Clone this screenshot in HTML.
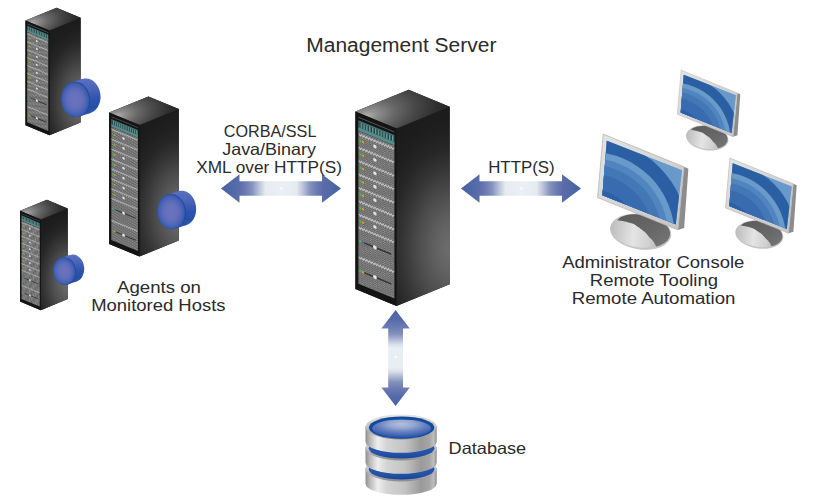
<!DOCTYPE html>
<html><head><meta charset="utf-8"><style>
html,body{margin:0;padding:0;background:#fff;}
svg{display:block;}
</style></head><body>
<svg width="818" height="502" viewBox="0 0 818 502">
<defs><linearGradient id="arrH" x1="0" y1="0" x2="1" y2="0">
<stop offset="0" stop-color="#4560a3"/><stop offset="0.15" stop-color="#5b6da9"/>
<stop offset="0.2" stop-color="#6a7ab1"/><stop offset="0.26" stop-color="#8593be"/>
<stop offset="0.32" stop-color="#bcc5da"/><stop offset="0.37" stop-color="#e5ebf0"/>
<stop offset="0.5" stop-color="#eaf0f4"/>
<stop offset="0.63" stop-color="#e5ebf0"/><stop offset="0.68" stop-color="#bcc5da"/>
<stop offset="0.74" stop-color="#8593be"/><stop offset="0.8" stop-color="#6a7ab1"/>
<stop offset="0.85" stop-color="#5b6da9"/><stop offset="1" stop-color="#4560a3"/>
</linearGradient><linearGradient id="arrV" x1="0" y1="0" x2="0" y2="1">
<stop offset="0" stop-color="#4862a5"/><stop offset="0.1" stop-color="#566aaa"/><stop offset="0.19" stop-color="#6e7db4"/>
<stop offset="0.25" stop-color="#8290bd"/><stop offset="0.3" stop-color="#aab4d2"/>
<stop offset="0.36" stop-color="#d9e0ea"/><stop offset="0.4" stop-color="#e8eff3"/>
<stop offset="0.6" stop-color="#e8eff3"/>
<stop offset="0.64" stop-color="#d9e0ea"/><stop offset="0.7" stop-color="#aab4d2"/>
<stop offset="0.75" stop-color="#8290bd"/><stop offset="0.81" stop-color="#6e7db4"/>
<stop offset="0.9" stop-color="#566aaa"/><stop offset="1" stop-color="#4862a5"/>
</linearGradient><radialGradient id="sideG" gradientUnits="userSpaceOnUse" cx="56" cy="120" r="145" gradientTransform="translate(56,120) scale(0.62,1) translate(-56,-120)">
<stop offset="0" stop-color="#707070"/><stop offset="0.2" stop-color="#606060"/>
<stop offset="0.38" stop-color="#4c4c4c"/><stop offset="0.55" stop-color="#363636"/>
<stop offset="0.7" stop-color="#262626"/><stop offset="0.85" stop-color="#1e1e1e"/><stop offset="1" stop-color="#1b1b1b"/></radialGradient><radialGradient id="topG" gradientUnits="userSpaceOnUse" cx="-31" cy="-12" r="92" gradientTransform="translate(-31,-12) rotate(-14) scale(1,0.48) translate(31,12)">
<stop offset="0" stop-color="#b4b4b4"/><stop offset="0.12" stop-color="#909090"/>
<stop offset="0.32" stop-color="#686868"/><stop offset="0.55" stop-color="#484848"/>
<stop offset="0.8" stop-color="#2e2e2e"/><stop offset="1" stop-color="#242424"/></radialGradient><pattern id="mesh" patternUnits="userSpaceOnUse" width="2.6" height="2.2">
<rect width="2.6" height="2.2" fill="#5e5e5e"/><circle cx="0.65" cy="0.55" r="0.62" fill="#9a9a9a"/><circle cx="1.95" cy="1.65" r="0.62" fill="#9a9a9a"/></pattern><radialGradient id="diskFace" cx="0.5" cy="0.5" r="0.5">
<stop offset="0" stop-color="#6a72bb"/><stop offset="0.45" stop-color="#6670ba"/>
<stop offset="0.62" stop-color="#5a6bb8"/><stop offset="0.8" stop-color="#4a64b5"/><stop offset="0.93" stop-color="#3a5cb1"/><stop offset="1" stop-color="#3055aa"/></radialGradient><linearGradient id="diskBody" x1="0" y1="0" x2="0" y2="1">
<stop offset="0" stop-color="#5a6ec0"/><stop offset="0.3" stop-color="#4a66b9"/>
<stop offset="0.6" stop-color="#2f54aa"/><stop offset="0.85" stop-color="#2350a6"/><stop offset="1" stop-color="#3a5cb0"/></linearGradient><g id="rack"><polygon points="-41.1,-16.89 12.100000000000001,-38.60 53.2,-21.71 53.2,155.79 0,177.5 -41.1,160.61" fill="#1a1a1a"/><polygon points="0,0 53.2,-21.71 53.2,155.79 0,177.5" fill="url(#sideG)"/><polygon points="-41.1,-16.89 12.100000000000001,-38.60 53.2,-21.71 0,0" fill="url(#topG)"/><polygon points="-41.1,-16.89 0,0 0,177.5 -41.1,160.61" fill="#141414"/><g transform="matrix(1,0.411,0,1,-41.1,-16.89)"><rect x="3" y="4" width="36" height="1" fill="#555"/><rect x="3" y="7.5" width="36" height="10.2" fill="#3f7070"/><rect x="3" y="14.6" width="36" height="3.1" fill="#558c8c"/><rect x="4.20" y="9" width="1.1" height="5.2" fill="#263f3f"/><rect x="5.40" y="9" width="0.6" height="5.2" fill="#8db8b8"/><rect x="7.05" y="9" width="1.1" height="5.2" fill="#263f3f"/><rect x="8.25" y="9" width="0.6" height="5.2" fill="#8db8b8"/><rect x="9.90" y="9" width="1.1" height="5.2" fill="#263f3f"/><rect x="11.10" y="9" width="0.6" height="5.2" fill="#8db8b8"/><rect x="12.75" y="9" width="1.1" height="5.2" fill="#263f3f"/><rect x="13.95" y="9" width="0.6" height="5.2" fill="#8db8b8"/><rect x="15.60" y="9" width="1.1" height="5.2" fill="#263f3f"/><rect x="16.80" y="9" width="0.6" height="5.2" fill="#8db8b8"/><rect x="18.45" y="9" width="1.1" height="5.2" fill="#263f3f"/><rect x="19.65" y="9" width="0.6" height="5.2" fill="#8db8b8"/><rect x="21.30" y="9" width="1.1" height="5.2" fill="#263f3f"/><rect x="22.50" y="9" width="0.6" height="5.2" fill="#8db8b8"/><rect x="24.15" y="9" width="1.1" height="5.2" fill="#263f3f"/><rect x="25.35" y="9" width="0.6" height="5.2" fill="#8db8b8"/><rect x="27.00" y="9" width="1.1" height="5.2" fill="#263f3f"/><rect x="28.20" y="9" width="0.6" height="5.2" fill="#8db8b8"/><rect x="29.85" y="9" width="1.1" height="5.2" fill="#263f3f"/><rect x="31.05" y="9" width="0.6" height="5.2" fill="#8db8b8"/><rect x="32.70" y="9" width="1.1" height="5.2" fill="#263f3f"/><rect x="33.90" y="9" width="0.6" height="5.2" fill="#8db8b8"/><rect x="35.55" y="9" width="1.1" height="5.2" fill="#263f3f"/><rect x="36.75" y="9" width="0.6" height="5.2" fill="#8db8b8"/><rect x="3" y="18" width="36" height="153" fill="url(#mesh)"/><polyline points="3.50,20.60 4.85,22.40 6.20,20.60 7.55,22.40 8.90,20.60 10.25,22.40 11.60,20.60 12.95,22.40 14.30,20.60 15.65,22.40 17.00,20.60 18.35,22.40 19.70,20.60 21.05,22.40 22.40,20.60 23.75,22.40 25.10,20.60 26.45,22.40 27.80,20.60 29.15,22.40 30.50,20.60 31.85,22.40 33.20,20.60 34.55,22.40 35.90,20.60 37.25,22.40 38.60,20.60" fill="none" stroke="#bebebe" stroke-width="1.1"/><circle cx="5" cy="27.50" r="1.1" fill="#3fc23f"/><circle cx="7.6" cy="27.60" r="1.1" fill="#e0a020"/><circle cx="19.5" cy="27.00" r="1.7" fill="#e2e2e2"/><polyline points="3.50,34.00 4.85,35.80 6.20,34.00 7.55,35.80 8.90,34.00 10.25,35.80 11.60,34.00 12.95,35.80 14.30,34.00 15.65,35.80 17.00,34.00 18.35,35.80 19.70,34.00 21.05,35.80 22.40,34.00 23.75,35.80 25.10,34.00 26.45,35.80 27.80,34.00 29.15,35.80 30.50,34.00 31.85,35.80 33.20,34.00 34.55,35.80 35.90,34.00 37.25,35.80 38.60,34.00" fill="none" stroke="#bebebe" stroke-width="1.1"/><circle cx="5" cy="40.90" r="1.1" fill="#3fc23f"/><circle cx="7.6" cy="41.00" r="1.1" fill="#e0a020"/><circle cx="19.5" cy="40.40" r="1.7" fill="#e2e2e2"/><polyline points="3.50,47.40 4.85,49.20 6.20,47.40 7.55,49.20 8.90,47.40 10.25,49.20 11.60,47.40 12.95,49.20 14.30,47.40 15.65,49.20 17.00,47.40 18.35,49.20 19.70,47.40 21.05,49.20 22.40,47.40 23.75,49.20 25.10,47.40 26.45,49.20 27.80,47.40 29.15,49.20 30.50,47.40 31.85,49.20 33.20,47.40 34.55,49.20 35.90,47.40 37.25,49.20 38.60,47.40" fill="none" stroke="#bebebe" stroke-width="1.1"/><circle cx="5" cy="54.30" r="1.1" fill="#3fc23f"/><circle cx="7.6" cy="54.40" r="1.1" fill="#e0a020"/><circle cx="19.5" cy="53.80" r="1.7" fill="#e2e2e2"/><polyline points="3.50,60.80 4.85,62.60 6.20,60.80 7.55,62.60 8.90,60.80 10.25,62.60 11.60,60.80 12.95,62.60 14.30,60.80 15.65,62.60 17.00,60.80 18.35,62.60 19.70,60.80 21.05,62.60 22.40,60.80 23.75,62.60 25.10,60.80 26.45,62.60 27.80,60.80 29.15,62.60 30.50,60.80 31.85,62.60 33.20,60.80 34.55,62.60 35.90,60.80 37.25,62.60 38.60,60.80" fill="none" stroke="#bebebe" stroke-width="1.1"/><circle cx="5" cy="67.70" r="1.1" fill="#3fc23f"/><circle cx="7.6" cy="67.80" r="1.1" fill="#e0a020"/><circle cx="19.5" cy="67.20" r="1.7" fill="#e2e2e2"/><polyline points="3.50,74.20 4.85,76.00 6.20,74.20 7.55,76.00 8.90,74.20 10.25,76.00 11.60,74.20 12.95,76.00 14.30,74.20 15.65,76.00 17.00,74.20 18.35,76.00 19.70,74.20 21.05,76.00 22.40,74.20 23.75,76.00 25.10,74.20 26.45,76.00 27.80,74.20 29.15,76.00 30.50,74.20 31.85,76.00 33.20,74.20 34.55,76.00 35.90,74.20 37.25,76.00 38.60,74.20" fill="none" stroke="#bebebe" stroke-width="1.1"/><circle cx="5" cy="81.10" r="1.1" fill="#3fc23f"/><circle cx="7.6" cy="81.20" r="1.1" fill="#e0a020"/><circle cx="19.5" cy="80.60" r="1.7" fill="#e2e2e2"/><polyline points="3.50,87.60 4.85,89.40 6.20,87.60 7.55,89.40 8.90,87.60 10.25,89.40 11.60,87.60 12.95,89.40 14.30,87.60 15.65,89.40 17.00,87.60 18.35,89.40 19.70,87.60 21.05,89.40 22.40,87.60 23.75,89.40 25.10,87.60 26.45,89.40 27.80,87.60 29.15,89.40 30.50,87.60 31.85,89.40 33.20,87.60 34.55,89.40 35.90,87.60 37.25,89.40 38.60,87.60" fill="none" stroke="#bebebe" stroke-width="1.1"/><circle cx="5" cy="94.50" r="1.1" fill="#3fc23f"/><circle cx="7.6" cy="94.60" r="1.1" fill="#e0a020"/><circle cx="19.5" cy="94.00" r="1.7" fill="#e2e2e2"/><polyline points="3.50,101.00 4.85,102.80 6.20,101.00 7.55,102.80 8.90,101.00 10.25,102.80 11.60,101.00 12.95,102.80 14.30,101.00 15.65,102.80 17.00,101.00 18.35,102.80 19.70,101.00 21.05,102.80 22.40,101.00 23.75,102.80 25.10,101.00 26.45,102.80 27.80,101.00 29.15,102.80 30.50,101.00 31.85,102.80 33.20,101.00 34.55,102.80 35.90,101.00 37.25,102.80 38.60,101.00" fill="none" stroke="#bebebe" stroke-width="1.1"/><circle cx="5" cy="107.90" r="1.1" fill="#3fc23f"/><circle cx="7.6" cy="108.00" r="1.1" fill="#e0a020"/><circle cx="19.5" cy="107.40" r="1.7" fill="#e2e2e2"/><polyline points="3.50,113.80 4.85,115.60 6.20,113.80 7.55,115.60 8.90,113.80 10.25,115.60 11.60,113.80 12.95,115.60 14.30,113.80 15.65,115.60 17.00,113.80 18.35,115.60 19.70,113.80 21.05,115.60 22.40,113.80 23.75,115.60 25.10,113.80 26.45,115.60 27.80,113.80 29.15,115.60 30.50,113.80 31.85,115.60 33.20,113.80 34.55,115.60 35.90,113.80 37.25,115.60 38.60,113.80" fill="none" stroke="#bebebe" stroke-width="1.1"/><circle cx="5" cy="127.80" r="1.1" fill="#3fc23f"/><circle cx="7.6" cy="127.90" r="1.1" fill="#4060c0"/><rect x="9" y="127.10" width="27" height="1.5" fill="#333"/><circle cx="19.5" cy="127.80" r="1.9" fill="#e6e6e6"/><polyline points="3.50,143.60 4.85,145.40 6.20,143.60 7.55,145.40 8.90,143.60 10.25,145.40 11.60,143.60 12.95,145.40 14.30,143.60 15.65,145.40 17.00,143.60 18.35,145.40 19.70,143.60 21.05,145.40 22.40,143.60 23.75,145.40 25.10,143.60 26.45,145.40 27.80,143.60 29.15,145.40 30.50,143.60 31.85,145.40 33.20,143.60 34.55,145.40 35.90,143.60 37.25,145.40 38.60,143.60" fill="none" stroke="#bebebe" stroke-width="1.1"/><circle cx="5" cy="157.60" r="1.1" fill="#3fc23f"/><circle cx="7.6" cy="157.70" r="1.1" fill="#e0a020"/><rect x="9" y="156.90" width="27" height="1.5" fill="#333"/><circle cx="19.5" cy="157.60" r="1.9" fill="#e6e6e6"/></g></g><linearGradient id="silverBand" gradientUnits="userSpaceOnUse" x1="365.5" y1="0" x2="436.7" y2="0">
<stop offset="0" stop-color="#8e8e8e"/><stop offset="0.06" stop-color="#b8b8b8"/>
<stop offset="0.17" stop-color="#eeeeee"/><stop offset="0.3" stop-color="#d4d4d4"/>
<stop offset="0.55" stop-color="#c4c4c4"/><stop offset="0.78" stop-color="#9a9a9a"/>
<stop offset="0.9" stop-color="#a6a6a6"/><stop offset="0.96" stop-color="#c0c0c0"/>
<stop offset="1" stop-color="#8a8a8a"/></linearGradient><linearGradient id="silverRim" x1="0" y1="0" x2="0" y2="1">
<stop offset="0" stop-color="#e8e8e8"/><stop offset="0.5" stop-color="#c4c4c4"/><stop offset="0.85" stop-color="#a0a0a0"/><stop offset="1" stop-color="#8a8a8a"/></linearGradient><radialGradient id="dbTop" cx="0.5" cy="0.3" r="0.7" fx="0.5" fy="0.25">
<stop offset="0" stop-color="#b4c0da"/><stop offset="0.3" stop-color="#96a8d2"/>
<stop offset="0.55" stop-color="#6a84c2"/><stop offset="0.8" stop-color="#4466b4"/><stop offset="1" stop-color="#1f54a6"/></radialGradient><linearGradient id="crescG" x1="0" y1="0" x2="0" y2="1">
<stop offset="0" stop-color="#2d5cb0"/><stop offset="0.75" stop-color="#2352a8"/><stop offset="1" stop-color="#1a4594"/></linearGradient><linearGradient id="bezelG" x1="0" y1="0" x2="1" y2="1">
<stop offset="0" stop-color="#e4e4e4"/><stop offset="1" stop-color="#c4c4c4"/></linearGradient><linearGradient id="baseG" x1="0" y1="0" x2="1" y2="0">
<stop offset="0" stop-color="#bdbdbd"/><stop offset="0.4" stop-color="#e4e4e4"/><stop offset="0.7" stop-color="#cfcfcf"/><stop offset="1" stop-color="#9a9a9a"/></linearGradient><clipPath id="scrClip"><polygon points="2.8,5.2 61.8,28.3 56.9,70.9 -0.6,47.9"/></clipPath><clipPath id="baseClip"><ellipse cx="29.6" cy="76.0" rx="23.0" ry="13.0" transform="rotate(8 29.4 76.5)"/></clipPath><linearGradient id="neckG" x1="0" y1="0" x2="1" y2="1">
<stop offset="0" stop-color="#585858"/><stop offset="0.5" stop-color="#686868"/><stop offset="1" stop-color="#858585"/></linearGradient><g id="monitor"><ellipse cx="29.4" cy="76.5" rx="24.2" ry="14" transform="rotate(8 29.4 76.5)" fill="#c4c4c4"/><ellipse cx="28.6" cy="76.2" rx="22.6" ry="12.6" transform="rotate(8 28.6 76.2)" fill="url(#baseG)"/><path clip-path="url(#baseClip)" d="M11,67.5 C15,64 18,60 22,55 L70,70 L70,95 L43.2,92 C41,86 39,83 36.3,81 C34,78 32,76 30.3,75 C27,72.5 25,71 23.4,70.3 C18,68.5 15,68 11,67.5 Z" fill="url(#neckG)"/><polygon points="63.4,25.7 66.8,27.2 63.5,73.6 58.6,75.2" fill="#8c8c8c"/><polygon points="0,0 63.4,25.7 58.6,75.2 -4.4,49.8" fill="url(#bezelG)" stroke="#b4b4b4" stroke-width="0.6"/><g clip-path="url(#scrClip)"><rect x="-10" y="-5" width="80" height="90" fill="#8ab2d6"/><circle cx="-10" cy="80" r="90" fill="#6899ca"/><circle cx="-10" cy="80" r="76.5" fill="#2b5fa3"/><circle cx="-10" cy="80" r="66" fill="#6a9aca"/><circle cx="-10" cy="80" r="61" fill="#5085bf"/><circle cx="-10" cy="80" r="56" fill="#4477b6"/><circle cx="-10" cy="80" r="49" fill="#386bb0"/><circle cx="-10" cy="80" r="37" fill="#2d5fa6"/></g></g></defs>
<rect width="818" height="502" fill="#fff"/>
<use href="#rack" transform="translate(49.5,30.5) scale(0.585,0.59)"/>
<g transform="translate(61,78) scale(1.0,1.0)"><ellipse cx="25.5" cy="18.0" rx="14.0" ry="17.5" transform="rotate(-6 25.5 18.0)" fill="url(#diskBody)"/><polygon points="9.98,4.81 21.28,1.11 29.72,34.89 18.42,38.59" fill="url(#diskBody)"/><ellipse cx="14.799999999999999" cy="21.5" rx="14.3" ry="17.7" transform="rotate(-6 14.2 21.7)" fill="#2249a0"/><ellipse cx="14.2" cy="21.7" rx="14.0" ry="17.5" transform="rotate(-6 14.2 21.7)" fill="url(#diskFace)"/></g>
<use href="#rack" transform="translate(139.5,125) scale(0.739,0.741)"/>
<g transform="translate(157.2,190.2) scale(0.985,1.0)"><ellipse cx="25.5" cy="18.0" rx="14.0" ry="17.5" transform="rotate(-6 25.5 18.0)" fill="url(#diskBody)"/><polygon points="9.98,4.81 21.28,1.11 29.72,34.89 18.42,38.59" fill="url(#diskBody)"/><ellipse cx="14.799999999999999" cy="21.5" rx="14.3" ry="17.7" transform="rotate(-6 14.2 21.7)" fill="#2249a0"/><ellipse cx="14.2" cy="21.7" rx="14.0" ry="17.5" transform="rotate(-6 14.2 21.7)" fill="url(#diskFace)"/></g>
<use href="#rack" transform="translate(40.8,219.5) scale(0.506,0.511)"/>
<g transform="translate(53,254.2) scale(0.79,0.7849999999999999)"><ellipse cx="25.5" cy="18.0" rx="14.0" ry="17.5" transform="rotate(-6 25.5 18.0)" fill="url(#diskBody)"/><polygon points="9.98,4.81 21.28,1.11 29.72,34.89 18.42,38.59" fill="url(#diskBody)"/><ellipse cx="14.799999999999999" cy="21.5" rx="14.3" ry="17.7" transform="rotate(-6 14.2 21.7)" fill="#2249a0"/><ellipse cx="14.2" cy="21.7" rx="14.0" ry="17.5" transform="rotate(-6 14.2 21.7)" fill="url(#diskFace)"/></g>
<use href="#rack" transform="translate(396.5,128.4) scale(1,1)"/>
<polygon points="221.0,188.5 239.5,174.3 239.5,181.2 322.0,181.2 322.0,174.3 341.0,188.5 322.0,202.7 322.0,195.8 239.5,195.8 239.5,202.7" fill="url(#arrH)"/>
<rect x="280.5" y="187.5" width="2" height="2" fill="#fff"/>
<polygon points="461.0,188.5 479.5,174.3 479.5,181.2 562.0,181.2 562.0,174.3 581.0,188.5 562.0,202.7 562.0,195.8 479.5,195.8 479.5,202.7" fill="url(#arrH)"/>
<rect x="520.5" y="187.5" width="2" height="2" fill="#fff"/>
<polygon points="395.6,310.0 409.8,328.4 403.0,328.4 403.0,387.5 409.8,387.5 395.6,406.0 381.4,387.5 388.2,387.5 388.2,328.4 381.4,328.4" fill="url(#arrV)"/>
<rect x="394.6" y="356" width="2" height="2" fill="#fff"/>
<path d="M365.5,468 L365.5,483.6 A35.6,11.2 0 0 0 436.70000000000005,483.6 L436.70000000000005,468 Z" fill="url(#silverBand)"/>
<ellipse cx="401.1" cy="468.9" rx="35.6" ry="12.5" fill="url(#silverRim)"/>
<ellipse cx="401.6" cy="469.2" rx="32.8" ry="10.4" fill="url(#crescG)"/>
<path d="M365.5,447 L365.5,462.6 A35.6,11.2 0 0 0 436.70000000000005,462.6 L436.70000000000005,447 Z" fill="url(#silverBand)"/>
<ellipse cx="401.1" cy="447.9" rx="35.6" ry="12.5" fill="url(#silverRim)"/>
<ellipse cx="401.6" cy="448.2" rx="32.8" ry="10.4" fill="url(#crescG)"/>
<path d="M365.5,426 L365.5,441.6 A35.6,11.2 0 0 0 436.70000000000005,441.6 L436.70000000000005,426 Z" fill="url(#silverBand)"/>
<ellipse cx="401.1" cy="426.9" rx="35.6" ry="12.5" fill="url(#silverRim)"/>
<ellipse cx="401.6" cy="427.6" rx="32.8" ry="11.1" fill="#134b9c"/>
<ellipse cx="401.6" cy="428.6" rx="29.5" ry="9.2" fill="url(#dbTop)"/>
<use href="#monitor" transform="translate(681.2,70.2) scale(0.885)"/>
<use href="#monitor" transform="translate(603.2,134.1) scale(1.275)"/>
<use href="#monitor" transform="translate(729.9,158.1) scale(1.0)"/>
<g fill="#2a2a2a" font-family="Liberation Sans, sans-serif">
<text x="306.3" y="52.2" textLength="190.09999999999997" lengthAdjust="spacingAndGlyphs" font-size="19.5">Management Server</text>
<text x="223.8" y="137.3" textLength="92.59999999999997" lengthAdjust="spacingAndGlyphs" font-size="16.5">CORBA/SSL</text>
<text x="222.2" y="155.3" textLength="93.80000000000001" lengthAdjust="spacingAndGlyphs" font-size="16.5">Java/Binary</text>
<text x="196.2" y="173.3" textLength="145.8" lengthAdjust="spacingAndGlyphs" font-size="16.5">XML over HTTP(S)</text>
<text x="488.2" y="173.3" textLength="66.40000000000003" lengthAdjust="spacingAndGlyphs" font-size="16.5">HTTP(S)</text>
<text x="117.0" y="293.3" textLength="84.0" lengthAdjust="spacingAndGlyphs" font-size="16.5">Agents on</text>
<text x="91.2" y="311.3" textLength="134.3" lengthAdjust="spacingAndGlyphs" font-size="16.5">Monitored Hosts</text>
<text x="562.2" y="268.3" textLength="182.19999999999993" lengthAdjust="spacingAndGlyphs" font-size="16.5">Administrator Console</text>
<text x="589.8" y="286.3" textLength="128.20000000000005" lengthAdjust="spacingAndGlyphs" font-size="16.5">Remote Tooling</text>
<text x="571.8" y="304.3" textLength="163.60000000000002" lengthAdjust="spacingAndGlyphs" font-size="16.5">Remote Automation</text>
<text x="448.6" y="454.3" textLength="77.60000000000002" lengthAdjust="spacingAndGlyphs" font-size="16.5">Database</text>
</g>
</svg></body></html>
